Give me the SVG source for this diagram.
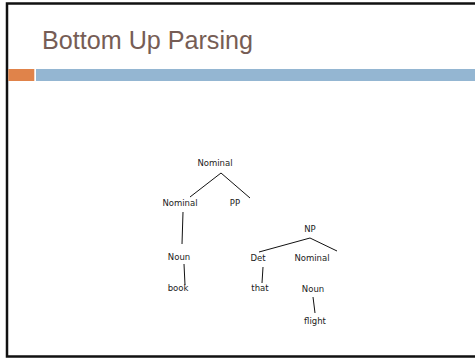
<svg xmlns="http://www.w3.org/2000/svg" width="475" height="359" viewBox="0 0 475 359">
  <style>
    .title { font-family: "Liberation Sans", "DejaVu Sans", sans-serif; font-size: 25px; fill: #765d55; }
    .lbl { font-family: "DejaVu Sans", "Liberation Sans", sans-serif; font-size: 8.5px; fill: #222; text-anchor: middle; }
    .edge { stroke: #111; stroke-width: 1; fill: none; }
  </style>
  <rect width="475" height="359" fill="#ffffff"/>
  <!-- slide frame -->
  <path d="M480,3.5 H7 V356.5 H480" fill="none" stroke="#111" stroke-width="2.5"/>
  <text class="title" x="42" y="49" textLength="211" lengthAdjust="spacingAndGlyphs">Bottom Up Parsing</text>
  <!-- header bars -->
  <rect x="8.3" y="69" width="26" height="12" fill="#e0834a"/>
  <rect x="36" y="69" width="440" height="12" fill="#94b6d2"/>

  <g id="connectors">
    <line class="edge" x1="221" y1="173" x2="190" y2="197"/>
    <line class="edge" x1="221" y1="173" x2="250" y2="198"/>
    <line class="edge" x1="183" y1="212" x2="182" y2="244"/>
    <line class="edge" x1="184" y1="264" x2="185" y2="285"/>
    <line class="edge" x1="310" y1="238" x2="259" y2="252"/>
    <line class="edge" x1="310" y1="238" x2="337" y2="251"/>
    <line class="edge" x1="263" y1="267" x2="262" y2="283"/>
    <line class="edge" x1="313" y1="297" x2="315" y2="313"/>
  </g>

  <g id="n-nominal-top"><text class="lbl" x="215" y="166">Nominal</text></g>
  <g id="n-nominal-left"><text class="lbl" x="180" y="206">Nominal</text></g>
  <g id="n-pp"><text class="lbl" x="235" y="206">PP</text></g>
  <g id="n-noun-left"><text class="lbl" x="179" y="260">Noun</text></g>
  <g id="n-book"><text class="lbl" x="178" y="291">book</text></g>
  <g id="n-np"><text class="lbl" x="310" y="232">NP</text></g>
  <g id="n-det"><text class="lbl" x="258" y="261">Det</text></g>
  <g id="n-nominal-right"><text class="lbl" x="312" y="261">Nominal</text></g>
  <g id="n-that"><text class="lbl" x="260" y="291">that</text></g>
  <g id="n-noun-right"><text class="lbl" x="313" y="292">Noun</text></g>
  <g id="n-flight"><text class="lbl" x="315" y="324">flight</text></g>
</svg>
